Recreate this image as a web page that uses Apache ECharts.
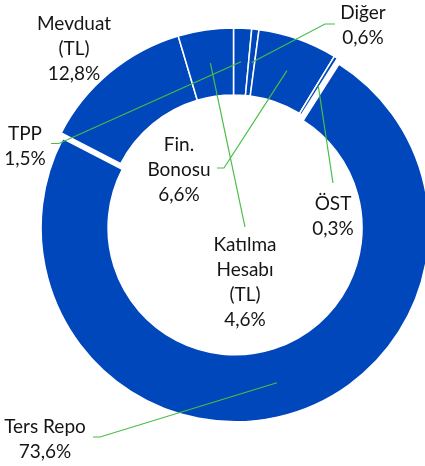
<!DOCTYPE html>
<html>
<head>
<meta charset="utf-8">
<script src="https://cdn.jsdelivr.net/npm/echarts@6/dist/echarts.min.js"></script>
<style>
html, body { margin: 0; padding: 0; background: #fff; }
#chart { width: 425px; height: 466px; }
</style>
</head>
<body>
<div id="chart"></div>
<script>
// dağılım (%), saat 12'den saat yönünde
var names = ['TPP', 'Diğer', 'Fin.\nBonosu', 'ÖST', 'Ters Repo', 'Mevduat\n(TL)', 'Katılma\nHesabı\n(TL)'];
var values = [1.5, 0.6, 6.6, 0.3, 73.6, 12.8, 4.6];
var explodeName = 'Ters Repo';

// etiket yerleşimi (metin bloğu merkezi, çizgi dirseği, çizgi ucu)
var labelCenter = [[25, 146], [363, 25], [179, 170], [333, 216], [45, 439], [74, 49], [245, 282]];
var lineElbow = [[59, 143.5], [325, 24], [224, 168], [333, 183], [100, 437], null, [245, 227]];
var lineEnd = [[51, 143.5], [335, 24], [217, 168], [333, 183], [93, 437], null, [245, 227]];

var blue = '#0047BB';
var green = '#48BE45';
var explodeOffset = 6;
var pieCenter = [233.5, 222];
var pieRadius = [127, 194];

var chart = echarts.init(document.getElementById('chart'));

// dilimler
var sliceData = [];
// etiketler (şeffaf kopya, üstte)
var labelData = [];
for (var i = 0; i < names.length; i++) {
    var s = { name: names[i], value: values[i] };
    if (names[i] === explodeName) s.selected = true;
    sliceData.push(s);
    var l = { name: names[i], value: values[i] };
    if (!lineEnd[i]) l.labelLine = { show: false };
    labelData.push(l);
}

chart.setOption({
    animation: false,
    series: [{
        type: 'pie',
        z: 2,
        silent: true,
        center: pieCenter,
        radius: pieRadius,
        startAngle: 90,
        clockwise: true,
        selectedMode: 'single',
        selectedOffset: explodeOffset,
        itemStyle: { color: blue, borderColor: '#fff', borderWidth: 1.5 },
        select: { itemStyle: { color: blue, borderColor: '#fff', borderWidth: 1.5 } },
        emphasis: { disabled: true },
        label: { show: false },
        labelLine: { show: false },
        data: sliceData
    }, {
        type: 'pie',
        z: 3,
        silent: true,
        center: pieCenter,
        radius: pieRadius,
        startAngle: 90,
        clockwise: true,
        avoidLabelOverlap: false,
        itemStyle: { color: 'rgba(0,0,0,0)', borderWidth: 0 },
        emphasis: { disabled: true },
        label: {
            show: true,
            position: 'outside',
            fontFamily: 'Lato',
            fontSize: 19,
            lineHeight: 25,
            color: '#151515',
            formatter: function (p) {
                return p.name + '\n' + String(p.value).replace('.', ',') + '%';
            }
        },
        labelLine: { show: true, lineStyle: { color: green, width: 1.2 } },
        labelLayout: function (p) {
            var i = p.dataIndex;
            var res = { x: labelCenter[i][0], y: labelCenter[i][1], align: 'center', verticalAlign: 'middle' };
            if (lineEnd[i]) {
                var lay = chart.getModel().getSeriesByIndex(p.seriesIndex).getData().getItemLayout(i);
                var mid = (lay.startAngle + lay.endAngle) / 2;
                var rm = (lay.r + lay.r0) / 2;
                var cx = lay.cx, cy = lay.cy;
                if (names[i] === explodeName) {
                    cx += explodeOffset * Math.cos(mid);
                    cy += explodeOffset * Math.sin(mid);
                }
                res.labelLinePoints = [
                    [cx + rm * Math.cos(mid), cy + rm * Math.sin(mid)],
                    lineElbow[i],
                    lineEnd[i]
                ];
            }
            return res;
        },
        data: labelData
    }]
});
</script>
</body>
</html>
